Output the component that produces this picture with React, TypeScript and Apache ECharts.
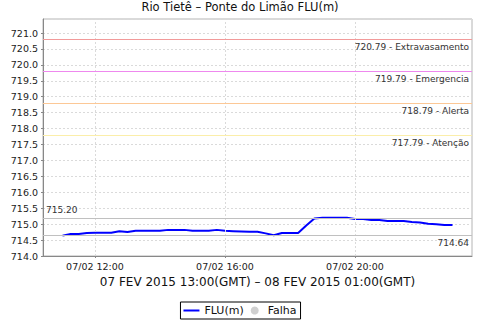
import React, { useEffect, useRef } from "react";
import * as echarts from "echarts";

const titleText = "Rio Tietê – Ponte do Limão FLU(m)";
const axisName = "07 FEV 2015 13:00(GMT) – 08 FEV 2015 01:00(GMT)";
const dayLabel = "07/02";

const times = [
  "11:00", "11:15", "11:30", "11:45", "12:00", "12:15", "12:30", "12:45",
  "13:00", "13:15", "13:30", "13:45", "14:00", "14:15", "14:30", "14:45",
  "15:00", "15:15", "15:30", "15:45", "16:00", "16:15", "16:30", "16:45",
  "17:00", "17:15", "17:30", "17:45", "18:00", "18:15", "18:30", "18:45",
  "19:00", "19:15", "19:30", "19:45", "20:00", "20:15", "20:30", "20:45",
  "21:00", "21:15", "21:30", "21:45", "22:00", "22:15", "22:30", "22:45",
  "23:00",
];
const levels = [
  714.64, 714.69, 714.69, 714.72, 714.73, 714.73, 714.73, 714.78,
  714.75, 714.79, 714.79, 714.79, 714.79, 714.82, 714.82, 714.82,
  714.79, 714.79, 714.79, 714.82, 714.79, 714.78, 714.77, 714.76,
  714.76, 714.71, 714.65, 714.72, 714.72, 714.72, 714.96, 715.18,
  715.20, 715.20, 715.20, 715.20, 715.16, 715.16, 715.13, 715.13,
  715.10, 715.10, 715.10, 715.07, 715.05, 715.01, 715.00, 714.97,
  714.97,
];

const thresholdValues = [720.79, 719.79, 718.79, 717.79];
const thresholdNames = ["Extravasamento", "Emergencia", "Alerta", "Atenção"];
const thresholdColors = ["#f29a9a", "#ee88ee", "#fcc896", "#fbeeaa"];

const tickHours = [12, 16, 20];
const xMin = 10.4;
const xMax = 23.6;
const yMin = 714.0;
const yMax = 721.44;
const yStep = 0.5;

const maxValue = 715.2;
const minValue = 714.64;

const FONT = "DejaVu Sans";

function toHour(t: string): number {
  const [h, m] = t.split(":").map(Number);
  return h + m / 60;
}

export default function App() {
  const ref = useRef<HTMLDivElement>(null);
  useEffect(() => {
    if (!ref.current) return;
    const chart = echarts.init(ref.current, null, { renderer: "svg" });
    const seriesData = times.map((t, i) => [toHour(t), levels[i]]);

    const thresholdLines = thresholdValues.map((v, i) => ({
      yAxis: v,
      lineStyle: { color: thresholdColors[i], width: 1, type: "solid" },
      label: {
        show: true,
        position: "insideEndBottom",
        formatter: v.toFixed(2) + " - " + thresholdNames[i],
        fontSize: 9,
        fontFamily: FONT,
        color: "#333",
        distance: [3, 3],
      },
    }));

    chart.setOption({
      animation: false,
      backgroundColor: "#fff",
      title: {
        text: titleText,
        left: "center",
        top: 1,
        padding: 0,
        textStyle: { fontSize: 11.5, fontWeight: "normal", fontFamily: FONT, color: "#111" },
      },
      grid: {
        left: 43,
        right: 8,
        top: 19,
        bottom: 64,
        show: true,
        borderColor: "#b4b4b4",
        borderWidth: 1,
        containLabel: false,
      },
      legend: {
        bottom: 1,
        left: "center",
        padding: [3, 4, 3, 3],
        itemGap: 7,
        itemWidth: 16,
        itemHeight: 8,
        symbolKeepAspect: true,
        borderColor: "#000",
        borderWidth: 1,
        borderRadius: 0,
        textStyle: { fontSize: 11, fontFamily: FONT, color: "#111" },
        data: [
          { name: "FLU(m)", icon: "path://M0,0H16V2H0Z" },
          { name: "Falha", icon: "circle" },
        ],
      },
      xAxis: {
        type: "value",
        min: xMin,
        max: xMax,
        name: axisName,
        nameLocation: "middle",
        nameGap: 19,
        nameTextStyle: { fontSize: 12, fontFamily: FONT, color: "#111" },
        axisLine: { show: true, lineStyle: { color: "#888", width: 1 } },
        axisTick: { show: true, length: 2, customValues: tickHours, lineStyle: { color: "#888" } },
        axisLabel: {
          customValues: tickHours,
          fontSize: 9.5,
          fontFamily: FONT,
          color: "#222",
          margin: 5,
          formatter: (v: number) => dayLabel + " " + String(v).padStart(2, "0") + ":00",
        },
        splitLine: { show: false },
      },
      yAxis: {
        type: "value",
        min: yMin,
        max: yMax,
        interval: yStep,
        axisLine: { show: true, lineStyle: { color: "#888", width: 1 } },
        axisTick: { show: true, length: 2, lineStyle: { color: "#888" } },
        axisLabel: {
          fontSize: 9.5,
          fontFamily: FONT,
          color: "#222",
          margin: 5,
          showMaxLabel: false,
          formatter: (v: number) => (Math.abs(v / yStep - Math.round(v / yStep)) < 1e-6 ? v.toFixed(1) : ""),
        },
        splitLine: { show: true, lineStyle: { color: "#dadada", type: [2, 2], width: 1 } },
      },
      series: [
        {
          name: "Falha",
          type: "scatter",
          data: [],
          itemStyle: { color: "#c4c4c4" },
          z: 1,
          markLine: {
            silent: true,
            symbol: ["none", "none"],
            animation: false,
            label: { show: false },
            lineStyle: { color: "#dadada", type: [2, 2], width: 1 },
            data: tickHours.map((h) => ({ xAxis: h })),
          },
        },
        {
          name: "FLU(m)",
          type: "line",
          data: seriesData,
          symbol: "none",
          showSymbol: false,
          lineStyle: { color: "#0000ff", width: 2 },
          itemStyle: { color: "#0000ff" },
          z: 3,
          markLine: {
            silent: true,
            symbol: ["none", "none"],
            animation: false,
            data: [
              ...thresholdLines,
              {
                yAxis: maxValue,
                lineStyle: { color: "#c0c0c0", width: 1, type: "solid" },
                label: {
                  show: true,
                  position: "insideStartTop",
                  formatter: maxValue.toFixed(2),
                  fontSize: 9,
                  fontFamily: FONT,
                  color: "#333",
                  distance: [3, 3],
                },
              },
              {
                yAxis: minValue,
                lineStyle: { color: "#c0c0c0", width: 1, type: "solid" },
                label: {
                  show: true,
                  position: "insideEndBottom",
                  formatter: minValue.toFixed(2),
                  fontSize: 9,
                  fontFamily: FONT,
                  color: "#333",
                  distance: [3, 3],
                },
              },
            ],
          },
        },
      ],
    });
    return () => chart.dispose();
  }, []);
  return (
    <div
      ref={ref}
      style={{ position: "fixed", left: 0, top: 0, width: 480, height: 320 }}
    />
  );
}
